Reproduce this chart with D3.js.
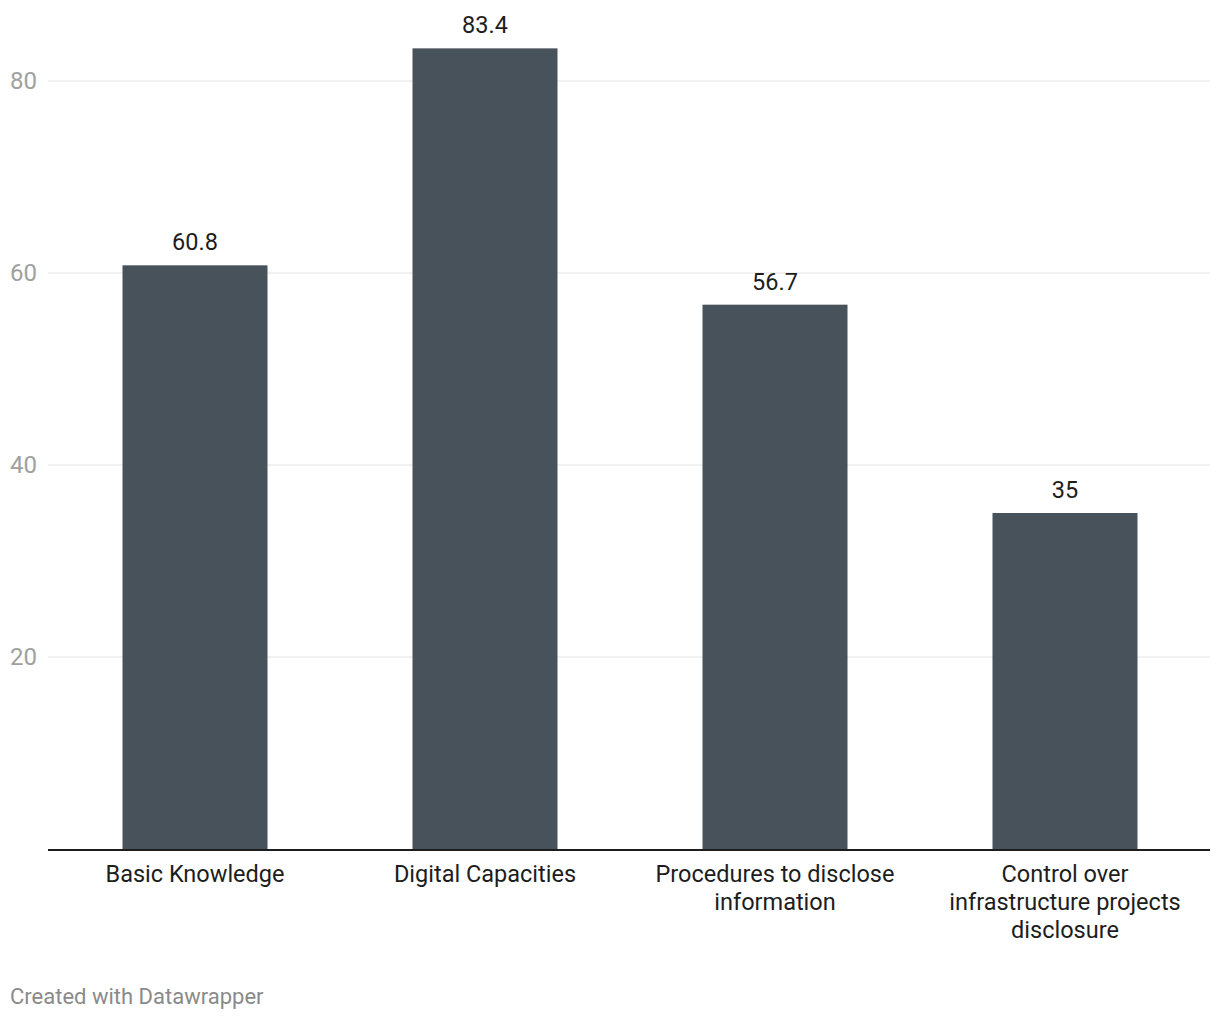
<!DOCTYPE html>
<html>
<head>
<meta charset="utf-8">
<script src="https://cdn.jsdelivr.net/npm/d3@7"></script>
<style>
  html, body { margin: 0; padding: 0; background: #fff; }
  svg { display: block; font-family: Roboto, "Noto Sans", sans-serif; }
</style>
</head>
<body>
<svg id="chart" width="1220" height="1020"></svg>
<script>
const categories = ["Basic Knowledge", "Digital Capacities", "Procedures to disclose information", "Control over infrastructure projects disclosure"];
const values = [60.8, 83.4, 56.7, 35];
const yTicks = [20, 40, 60, 80];
const footer = "Created with Datawrapper";

(function () {
const svg = d3.select("#chart");
const gLeft = 48, mRight = 1210, mTop = 81, mBottom = 849;

const x = d3.scaleBand().domain(categories).range([50, mRight]).paddingInner(0.5).paddingOuter(0.25);
const y = d3.scaleLinear().domain([0, 80]).range([mBottom, mTop]);

// grid
const grid = svg.append("g");
grid.selectAll("line").data(yTicks).join("line")
  .attr("x1", gLeft).attr("x2", mRight)
  .attr("y1", d => y(d)).attr("y2", d => y(d))
  .attr("stroke", "#e3e3e3").attr("stroke-width", 1);
grid.selectAll("text").data(yTicks).join("text")
  .attr("x", 10).attr("y", d => y(d)).attr("dy", "0.35em")
  .attr("font-size", 24).attr("fill", "#a0a0a0")
  .text(d => d);

// bars
svg.append("g").selectAll("rect").data(values).join("rect")
  .attr("x", (d, i) => x(categories[i]))
  .attr("width", x.bandwidth())
  .attr("y", d => y(d))
  .attr("height", d => y(0) - y(d))
  .attr("fill", "#48525b");

// value labels
svg.append("g").selectAll("text").data(values).join("text")
  .attr("x", (d, i) => x(categories[i]) + x.bandwidth() / 2)
  .attr("y", d => y(d) - 15)
  .attr("text-anchor", "middle")
  .attr("font-size", 23.5).attr("fill", "#1d1d1d")
  .text(d => d);

// baseline
svg.append("line")
  .attr("x1", gLeft).attr("x2", mRight)
  .attr("y1", y(0) + 1).attr("y2", y(0) + 1)
  .attr("stroke", "#1d1d1d").attr("stroke-width", 2);

// category labels with wrapping
const maxW = 255;
const catG = svg.append("g");
categories.forEach(c => {
  const cx = x(c) + x.bandwidth() / 2;
  const t = catG.append("text")
    .attr("x", cx)
    .attr("y", 882)
    .attr("text-anchor", "middle")
    .attr("font-size", 23.5).attr("fill", "#1d1d1d");
  const words = c.split(" ");
  let lines = [], line = [];
  const probe = catG.append("text").attr("font-size", 23.5).attr("visibility", "hidden");
  words.forEach(w => {
    const test = line.concat([w]).join(" ");
    probe.text(test);
    if (probe.node().getComputedTextLength() > maxW && line.length) {
      lines.push(line.join(" "));
      line = [w];
    } else line.push(w);
  });
  lines.push(line.join(" "));
  probe.remove();
  lines.forEach((l, i) => {
    t.append("tspan").attr("x", cx).attr("dy", i === 0 ? 0 : 28).text(l);
  });
});

// footer
svg.append("text").attr("x", 10).attr("y", 1004)
  .attr("font-size", 22).attr("fill", "#8a8a8a")
  .text(footer);
})();
</script>
</body>
</html>
